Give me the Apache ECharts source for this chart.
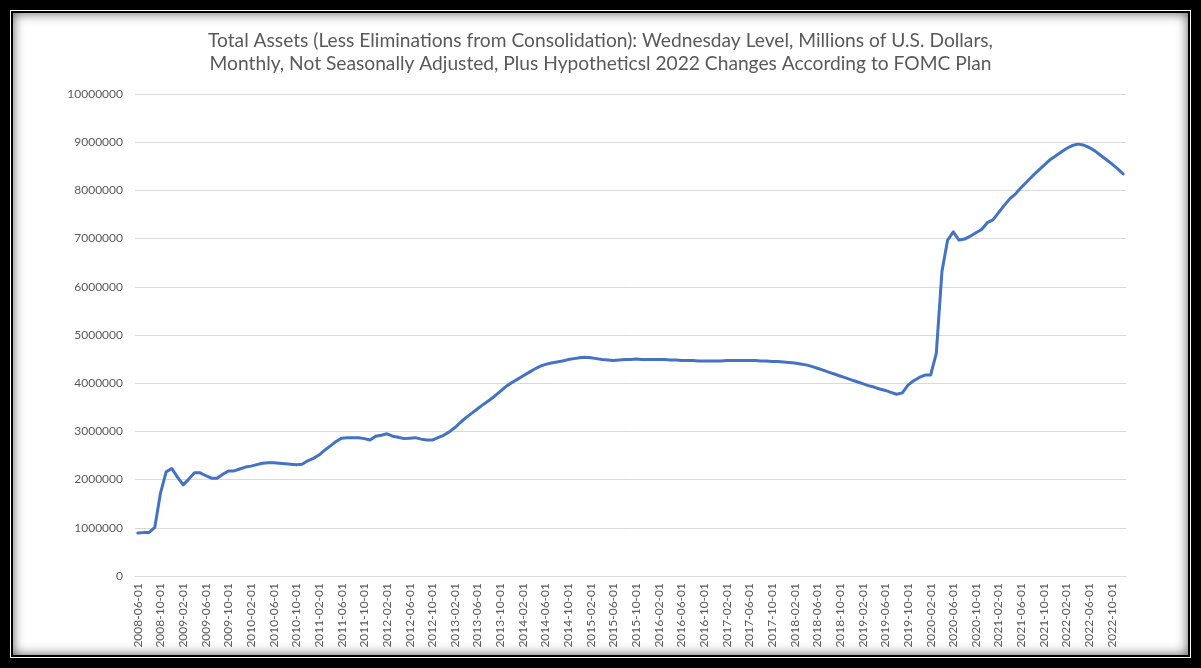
<!DOCTYPE html>
<html>
<head>
<meta charset="utf-8">
<script src="https://cdn.jsdelivr.net/npm/echarts@6/dist/echarts.min.js"></script>
<style>
  html, body { margin: 0; padding: 0; background: #000; width: 1201px; height: 668px; overflow: hidden; }
  #frame { position: absolute; left: 11px; top: 11px; width: 1175px; height: 642px; background: #fff;
           border: 2px solid #000; box-shadow: 0 0 0 1px #fff, inset 0 0 12px rgba(0,0,0,0.65); }
  #chart { position: absolute; left: 0; top: 0; width: 1201px; height: 668px; }
</style>
</head>
<body>
<div id="frame"></div>
<div id="chart"></div>
<script>
const titleText = 'Total Assets (Less Eliminations from Consolidation): Wednesday Level, Millions of U.S. Dollars,\nMonthly, Not Seasonally Adjusted, Plus Hypotheticsl 2022 Changes According to FOMC Plan';

// Monthly categories 2008-06-01 .. 2022-12-01
const startYear = 2008, startMonth = 6, monthCount = 175;
const categories = [];
for (let k = 0; k < monthCount; k++) {
  const m = startMonth - 1 + k;
  const y = startYear + Math.floor(m / 12);
  const mm = (m % 12) + 1;
  categories.push(y + '-' + String(mm).padStart(2, '0') + '-01');
}

// Values in millions of U.S. dollars
const values2008_2010 = [
  890000, 900000, 905000, 1010000, 1720000, 2160000, 2230000,
  2050000, 1890000, 2010000, 2140000, 2140000, 2080000, 2030000, 2030000, 2110000, 2180000, 2180000, 2220000,
  2260000, 2280000, 2310000, 2340000, 2350000, 2350000, 2340000, 2330000, 2320000, 2310000, 2320000, 2390000
];
const values2011_2013 = [
  2440000, 2510000, 2610000, 2700000, 2790000, 2860000, 2870000, 2870000, 2870000, 2850000, 2820000, 2900000,
  2920000, 2950000, 2900000, 2880000, 2850000, 2860000, 2870000, 2840000, 2820000, 2820000, 2870000, 2920000,
  2990000, 3080000, 3190000, 3290000, 3380000, 3470000, 3560000, 3640000, 3730000, 3830000, 3930000, 4010000
];
const values2014_2016 = [
  4080000, 4150000, 4220000, 4290000, 4350000, 4390000, 4420000, 4440000, 4460000, 4490000, 4510000, 4530000,
  4540000, 4530000, 4510000, 4490000, 4480000, 4470000, 4480000, 4490000, 4490000, 4500000, 4490000, 4490000,
  4490000, 4490000, 4490000, 4480000, 4480000, 4470000, 4470000, 4470000, 4460000, 4460000, 4460000, 4460000
];
const values2017_2019 = [
  4460000, 4470000, 4470000, 4470000, 4470000, 4470000, 4470000, 4460000, 4460000, 4450000, 4450000, 4440000,
  4430000, 4420000, 4400000, 4380000, 4350000, 4310000, 4270000, 4230000, 4190000, 4150000, 4110000, 4070000,
  4030000, 3990000, 3950000, 3920000, 3880000, 3850000, 3810000, 3770000, 3800000, 3960000, 4050000, 4120000
];
const values2020_2022 = [
  4170000, 4170000, 4620000, 6320000, 6970000, 7140000, 6970000, 6990000, 7050000, 7120000, 7190000, 7330000,
  7390000, 7540000, 7690000, 7830000, 7930000, 8060000, 8180000, 8300000, 8410000, 8520000, 8630000, 8710000,
  8790000, 8870000, 8930000, 8960000, 8940000, 8890000, 8820000, 8730000, 8640000, 8550000, 8450000, 8340000
];
const seriesValues = [].concat(values2008_2010, values2011_2013, values2014_2016, values2017_2019, values2020_2022);

const yMin = 0, yMax = 10000000, yInterval = 1000000;

const chart = echarts.init(document.getElementById('chart'), null, { renderer: 'canvas' });
const FONT = 'Lato, "Open Sans", sans-serif';
chart.setOption({
  backgroundColor: 'transparent',
  animation: false,
  title: {
    text: titleText,
    left: 'center',
    top: 24,
    textStyle: { fontFamily: FONT, fontSize: 19.2, fontWeight: 'normal', color: '#595959', lineHeight: 23 }
  },
  grid: { left: 135, right: 75, top: 94, bottom: 92, containLabel: false },
  xAxis: {
    type: 'category',
    data: categories,
    boundaryGap: true,
    axisLine: { show: true, lineStyle: { color: '#d9d9d9', width: 1 } },
    axisTick: { show: false },
    axisLabel: { interval: 3, rotate: 90, color: '#595959', fontFamily: FONT, fontSize: 12, margin: 7 },
    splitLine: { show: false }
  },
  yAxis: {
    type: 'value',
    min: yMin, max: yMax, interval: yInterval,
    axisLine: { show: false },
    axisTick: { show: false },
    axisLabel: { color: '#595959', fontFamily: FONT, fontSize: 12, margin: 12, formatter: function (v) { return String(v); } },
    splitLine: { show: true, lineStyle: { color: '#d9d9d9', width: 1 } }
  },
  series: [{
    type: 'line',
    data: seriesValues,
    showSymbol: false,
    symbol: 'none',
    smooth: false,
    lineStyle: { color: '#4472C4', width: 3, cap: 'round', join: 'round' },
    itemStyle: { color: '#4472C4' }
  }]
});
</script>
</body>
</html>
